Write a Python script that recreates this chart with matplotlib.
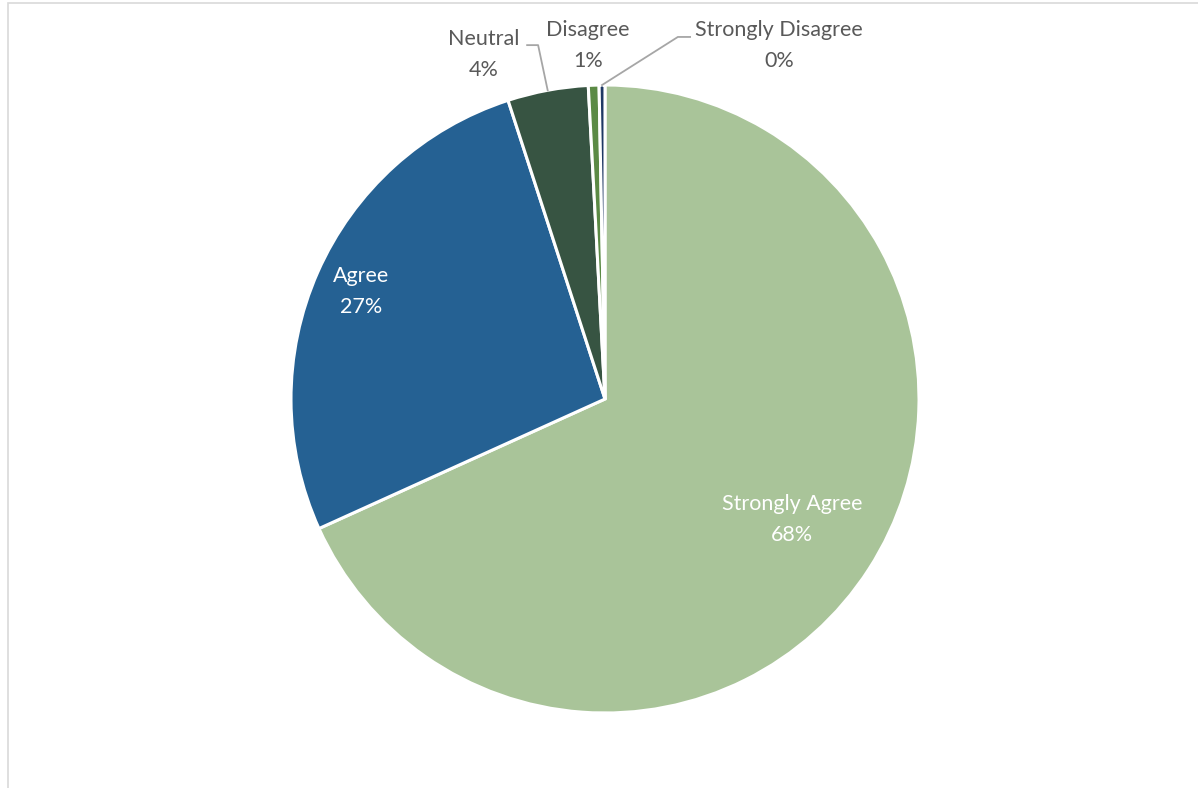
import numpy as np
import matplotlib

matplotlib.use("Agg")
import matplotlib.pyplot as plt
from matplotlib.patches import Rectangle

# survey response shares (percent)
categories = ["Strongly Agree", "Agree", "Neutral", "Disagree", "Strongly Disagree"]
shares = [68.3, 26.8, 4.15, 0.55, 0.3]
colors = ["#A9C499", "#256193", "#375442", "#5B8A45", "#1F3864"]

plt.rcParams["font.family"] = ["Lato", "DejaVu Sans"]

W, H = 1198, 788
fig = plt.figure(figsize=(W / 100, H / 100), dpi=100)
fig.patch.set_facecolor("white")

# thin chart frame (left/top visible)
fig.add_artist(Rectangle((8 / W, -0.01), 1.02, (H - 3) / H + 0.01, transform=fig.transFigure,
                         fill=False, edgecolor="#D9D9D9", linewidth=1.2))

cx, cy, r = 605, 389, 314
ax = fig.add_axes([(cx - r) / W, (cy - r) / H, 2 * r / W, 2 * r / H])
wedges, _ = ax.pie(shares, colors=colors, startangle=90, counterclock=False, radius=1,
                   wedgeprops=dict(edgecolor="white", linewidth=2.2))
ax.set_xlim(-1, 1)
ax.set_ylim(-1, 1)
ax.set_aspect("equal")
ax.axis("off")

total = sum(shares)
pct = [f"{v / total * 100:.0f}%" for v in shares]


def mid_dir(w):
    a = np.deg2rad((w.theta1 + w.theta2) / 2)
    return np.cos(a), np.sin(a)


FS = 15.5
LS = 1.7

# inside labels: (index, radial distance)
inside = [(0, 0.71), (1, 0.85)]
for i, dist in inside:
    dx, dy = mid_dir(wedges[i])
    ax.text(dx * dist, dy * dist, f"{categories[i]}\n{pct[i]}", color="white",
            ha="center", va="center", fontsize=FS, linespacing=LS)

# outside labels: (index, text pos, leader path or None)
outside = [
    (2, (-0.385, 1.096), [(-0.248, 1.127), (-0.213, 1.127)]),
    (3, (-0.054, 1.127), None),
    (4, (0.554, 1.127), [(0.271, 1.153), (0.232, 1.153)]),
]
for i, (tx, ty), path in outside:
    ax.text(tx, ty, f"{categories[i]}\n{pct[i]}", color="#595959",
            ha="center", va="center", fontsize=FS, linespacing=LS, clip_on=False)
    if path:
        dx, dy = mid_dir(wedges[i])
        xs = [p[0] for p in path] + [dx * 1.0]
        ys = [p[1] for p in path] + [dy * 1.0]
        ax.plot(xs, ys, color="#A6A6A6", linewidth=1.3, clip_on=False)

fig.savefig("out.png", dpi=100)
